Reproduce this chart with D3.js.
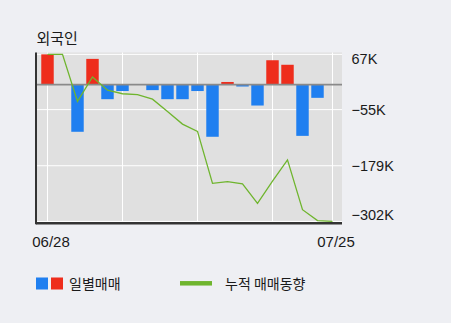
<!DOCTYPE html>
<html>
<head>
<meta charset="utf-8">
<script src="https://cdn.jsdelivr.net/npm/d3@7"></script>
<style>
  html, body { margin: 0; padding: 0; background: #eeeff3; }
  svg { display: block; }
  text { font-family: "Liberation Sans", "Noto Sans CJK KR", sans-serif; fill: #1a1a1a; }
  .ko { font-family: "Noto Sans CJK KR", sans-serif; }
</style>
</head>
<body>
<svg id="chart" width="451" height="323"></svg>
<script>
// Trading days shown on the x axis
const dates = ["06/28","06/29","07/02","07/03","07/04","07/05","07/06","07/09","07/10","07/11",
               "07/12","07/13","07/16","07/17","07/18","07/19","07/20","07/23","07/24","07/25"];
// Daily net foreign trading (shares)
const daily = [67000, 0, -104000, 57000, -32000, -14000, 0, -12000, -32000, -32000,
               -14000, -115000, 6000, -4000, -46000, 54000, 44000, -113000, -29000, 0];
// Cumulative net trading (shares)
const cumulative = [67000, 67000, -37000, 17000, -12000, -20000, -22000, -32000, -59000, -87000,
                    -103000, -218000, -214000, -219000, -262000, -213000, -166000, -276000, -300000, -302000];
// Right axis tick values and their labels
const yTicks = [67000, -55000, -179000, -302000];
const yTickLabels = ["67K", "\u221255K", "\u2212179K", "\u2212302K"];
// Dates labelled on the x axis and days carrying a vertical grid line
const xLabelDays = ["06/28", "07/25"];
const xGridDays = ["06/28", "07/05", "07/12", "07/19", "07/25"];

const svg = d3.select("#chart");
const plot = { left: 36, right: 342, top: 52.5, bottom: 223.3 };

const x = d3.scaleBand().domain(dates).range([40, 340]).paddingInner(0.17).paddingOuter(0.085);
const xc = d => x(d) + x.bandwidth() / 2;
const y = d3.scaleLinear().domain([-306100, 71100]).range([plot.bottom, plot.top]);

// plot background
svg.append("rect")
  .attr("x", plot.left).attr("y", plot.top)
  .attr("width", plot.right - plot.left).attr("height", plot.bottom - plot.top)
  .attr("fill", "#e0e0e0");

// grid lines
svg.append("g").selectAll("line").data(yTicks).join("line")
  .attr("x1", plot.left).attr("x2", plot.right)
  .attr("y1", d => y(d)).attr("y2", d => y(d))
  .attr("stroke", "#ffffff").attr("stroke-width", 1);
svg.append("g").selectAll("line").data(xGridDays).join("line")
  .attr("x1", d => xc(d)).attr("x2", d => xc(d))
  .attr("y1", plot.top).attr("y2", plot.bottom)
  .attr("stroke", "#ffffff").attr("stroke-width", 1);

// daily bars
svg.append("g").selectAll("rect").data(dates.map((d, i) => ({ d, v: daily[i] })).filter(o => o.v !== 0))
  .join("rect")
  .attr("x", o => x(o.d))
  .attr("width", x.bandwidth())
  .attr("y", o => y(Math.max(0, o.v)))
  .attr("height", o => Math.abs(y(o.v) - y(0)))
  .attr("fill", o => o.v > 0 ? "#ee2d1c" : "#1f7ff0");

// zero line
svg.append("line")
  .attr("x1", plot.left).attr("x2", plot.right)
  .attr("y1", y(0)).attr("y2", y(0))
  .attr("stroke", "#8a8a8a").attr("stroke-width", 1.8);

// cumulative line
svg.append("path")
  .datum(dates.map((d, i) => [xc(d), y(cumulative[i])]))
  .attr("d", d3.line())
  .attr("fill", "none")
  .attr("stroke", "#6fb52e").attr("stroke-width", 1.3);

// axis frame
svg.append("line")
  .attr("x1", plot.left).attr("x2", plot.left)
  .attr("y1", plot.top).attr("y2", plot.bottom + 1)
  .attr("stroke", "#333").attr("stroke-width", 2);
svg.append("line")
  .attr("x1", plot.left).attr("x2", plot.right)
  .attr("y1", plot.bottom).attr("y2", plot.bottom)
  .attr("stroke", "#333").attr("stroke-width", 2.4);

// right axis labels, kept inside the plot's vertical span
svg.append("g").selectAll("text").data(yTicks).join("text")
  .attr("x", 351.5)
  .attr("y", d => Math.min(plot.bottom - 8.5, Math.max(plot.top + 6.3, y(d))))
  .attr("dy", "0.36em")
  .attr("font-size", 14.5)
  .text((d, i) => yTickLabels[i]);

// x axis labels
svg.append("g").selectAll("text").data(xLabelDays).join("text")
  .attr("x", d => xc(d) + 3.5)
  .attr("y", 241.7)
  .attr("dy", "0.36em")
  .attr("text-anchor", "middle")
  .attr("font-size", 15)
  .text(d => d);

// title
svg.append("text").attr("class", "ko")
  .attr("x", 36.5).attr("y", 38.3).attr("dy", "0.36em")
  .attr("font-size", 15)
  .text("외국인");

// legend
const lg = svg.append("g");
lg.append("rect").attr("x", 36).attr("y", 277.5).attr("width", 12).attr("height", 12).attr("fill", "#1f7ff0");
lg.append("rect").attr("x", 51).attr("y", 277.5).attr("width", 12).attr("height", 12).attr("fill", "#ee2d1c");
lg.append("text").attr("class", "ko").attr("x", 69).attr("y", 283.5).attr("dy", "0.36em")
  .attr("font-size", 14).text("일별매매");
lg.append("line").attr("x1", 180).attr("x2", 212).attr("y1", 283.3).attr("y2", 283.3)
  .attr("stroke", "#6fb52e").attr("stroke-width", 4.5);
lg.append("text").attr("class", "ko").attr("x", 225).attr("y", 283.5).attr("dy", "0.36em")
  .attr("font-size", 14).text("누적 매매동향");
</script>
</body>
</html>
